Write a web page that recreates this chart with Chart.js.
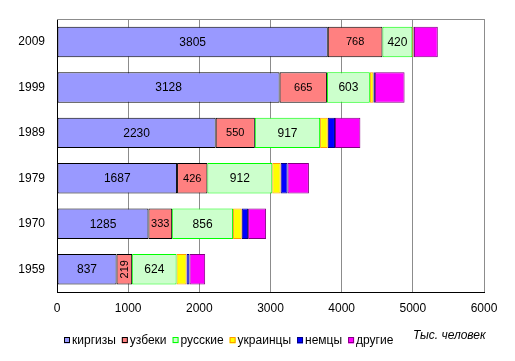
<!DOCTYPE html>
<html>
<head>
<meta charset="utf-8">
<script src="https://cdn.jsdelivr.net/npm/chart.js@4"></script>
<style>
    html, body { margin: 0; padding: 0; background: #fff; }
    #wrap { width: 515px; height: 361px; }
</style>
</head>
<body>
<div id="wrap"><canvas id="chart" width="515" height="361"></canvas></div>
<script>
// --------------------------------------------------------------------------
// DATA (тыс. человек)
// --------------------------------------------------------------------------
const years = ['2009', '1999', '1989', '1979', '1970', '1959'];
const kyrgyz = [3805, 3128, 2230, 1687, 1285, 837];
const uzbek = [768, 665, 550, 426, 333, 219];
const russian = [420, 603, 917, 912, 856, 624];
const ukrainian = [15, 50, 108, 117, 122, 140];
const german = [8, 21, 101, 98, 89, 42];
const other = [335, 417, 357, 300, 253, 220];
const xTicks = [0, 1000, 2000, 3000, 4000, 5000, 6000];
const unitLabel = 'Тыс. человек';

const FONT = 'Arial, "Liberation Sans", sans-serif';

const series = [
    { label: 'киргизы', data: kyrgyz, fill: '#9999FF', border: '#000000', showValue: true, valueSize: 12 },
    { label: 'узбеки', data: uzbek, fill: '#FF8080', border: '#000000', showValue: true, valueSize: 11 },
    { label: 'русские', data: russian, fill: '#CCFFCC', border: '#00FF00', showValue: true, valueSize: 12 },
    { label: 'украинцы', data: ukrainian, fill: '#FFFF00', border: '#FF9900', showValue: false },
    { label: 'немцы', data: german, fill: '#0000FF', border: '#000080', showValue: false },
    { label: 'другие', data: other, fill: '#FF00FF', border: '#800080', showValue: false },
];

// --------------------------------------------------------------------------
// PLUGINS
// --------------------------------------------------------------------------
// gray frame on top/right of the plot area (left/bottom are the black axes)
const frameLines = {
    id: 'frameLines',
    beforeDatasetsDraw(chart) {
        const { ctx, chartArea: a } = chart;
        ctx.save();
        ctx.strokeStyle = '#8c8c8c';
        ctx.lineWidth = 1;
        ctx.beginPath();
        ctx.moveTo(a.left, Math.floor(a.top) + 0.5);
        ctx.lineTo(Math.floor(a.right) + 0.5, Math.floor(a.top) + 0.5);
        ctx.lineTo(Math.floor(a.right) + 0.5, a.bottom);
        ctx.stroke();
        ctx.restore();
    }
};

// value labels inside the first three segments
const segmentLabels = {
    id: 'segmentLabels',
    afterDatasetsDraw(chart) {
        const { ctx } = chart;
        ctx.save();
        ctx.fillStyle = '#000';
        ctx.textAlign = 'center';
        ctx.textBaseline = 'middle';
        series.forEach((s, di) => {
            if (!s.showValue) return;
            const meta = chart.getDatasetMeta(di);
            ctx.font = s.valueSize + 'px ' + FONT;
            meta.data.forEach((bar, i) => {
                const text = String(s.data[i]);
                const cx = (bar.x + bar.base) / 2;
                const w = Math.abs(bar.x - bar.base);
                const tw = ctx.measureText(text).width;
                if (tw > w - 2) {
                    ctx.save();
                    ctx.translate(cx + 0.5, bar.y);
                    ctx.rotate(-Math.PI / 2);
                    ctx.fillText(text, 0, 0);
                    ctx.restore();
                } else {
                    ctx.fillText(text, cx, bar.y + 0.5);
                }
            });
        });
        ctx.restore();
    }
};

// legend row + unit caption at the bottom
const bottomLegend = {
    id: 'bottomLegend',
    afterDraw(chart) {
        const { ctx } = chart;
        ctx.save();
        ctx.font = '12px ' + FONT;
        ctx.textBaseline = 'middle';
        ctx.textAlign = 'left';
        let x = 64;
        const y = 340.5;
        series.forEach(s => {
            ctx.fillStyle = s.fill;
            ctx.fillRect(x, y - 3, 6, 6);
            ctx.strokeStyle = s.border;
            ctx.lineWidth = 1;
            ctx.strokeRect(x + 0.5, y - 3, 5, 5);
            ctx.fillStyle = '#000';
            ctx.fillText(s.label, x + 8, y);
            x += 8 + ctx.measureText(s.label).width + 6;
        });
        ctx.font = 'italic 12px ' + FONT;
        ctx.fillText(unitLabel, 413, 336);
        ctx.restore();
    }
};

// --------------------------------------------------------------------------
// CHART
// --------------------------------------------------------------------------
function buildChart() {
    const canvas = document.getElementById('chart');
    return new Chart(canvas, {
        type: 'bar',
        data: {
            labels: years,
            datasets: series.map(s => ({
                label: s.label,
                data: s.data,
                backgroundColor: s.fill,
                borderColor: s.border,
                borderWidth: 1,
                borderSkipped: false,
                barPercentage: 0.67,
                categoryPercentage: 1,
            }))
        },
        options: {
            indexAxis: 'y',
            responsive: false,
            devicePixelRatio: 1,
            animation: false,
            layout: { padding: { left: 0, right: 31, top: 15, bottom: 39 } },
            plugins: { legend: { display: false }, tooltip: { enabled: false } },
            scales: {
                x: {
                    stacked: true,
                    min: 0,
                    max: 6000,
                    afterBuildTicks: s => { s.ticks = xTicks.map(v => ({ value: v })); },
                    afterFit: s => { s.height = 30; },
                    grid: { color: '#8c8c8c', drawTicks: false },
                    border: { color: '#000', width: 1 },
                    ticks: {
                        color: '#000', padding: 9, maxRotation: 0,
                        font: { family: FONT, size: 12 },
                        callback: v => String(v)
                    }
                },
                y: {
                    stacked: true,
                    afterFit: s => { s.width = 57; },
                    grid: { drawOnChartArea: false, drawTicks: false, color: 'transparent' },
                    border: { color: '#000', width: 1 },
                    ticks: { color: '#000', padding: 12, font: { family: FONT, size: 12 } }
                }
            }
        },
        plugins: [frameLines, segmentLabels, bottomLegend]
    });
}

buildChart();
</script>
</body>
</html>
